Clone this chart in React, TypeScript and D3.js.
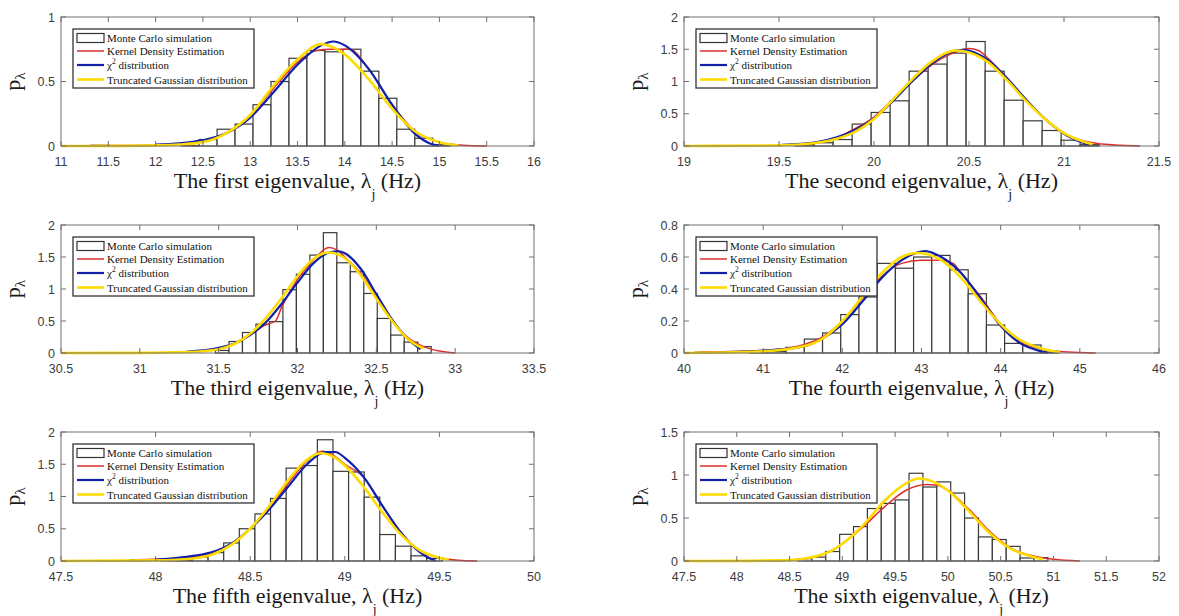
import React from 'react';
import * as d3 from 'd3';

// histogram heights (bin start, bin width, heights)
const bins1 = [0.005, 0, 0, 0, 0, 0.003, 0.05, 0.13, 0.17, 0.32, 0.5, 0.68, 0.74, 0.73, 0.75, 0.58, 0.37, 0.13, 0.06, 0.01];
const bins2 = [0.02, 0.05, 0.1, 0.34, 0.52, 0.7, 1.16, 1.27, 1.44, 1.62, 1.16, 0.71, 0.39, 0.24, 0.09, 0.02];
const bins3 = [0.04, 0.18, 0.32, 0.45, 0.49, 0.99, 1.23, 1.53, 1.88, 1.41, 1.27, 0.93, 0.54, 0.28, 0.17, 0.1];
const bins4 = [0.005, 0, 0, 0.005, 0.01, 0.035, 0.087, 0.125, 0.24, 0.35, 0.56, 0.53, 0.6, 0.61, 0.52, 0.37, 0.175, 0.06, 0.05, 0.005];
const bins5 = [0.02, 0, 0.005, 0.01, 0.06, 0.13, 0.28, 0.5, 0.73, 0.97, 1.44, 1.48, 1.88, 1.39, 1.38, 0.99, 0.41, 0.23, 0.08, 0.04];
const bins6 = [0.027, 0.045, 0.11, 0.31, 0.4, 0.61, 0.67, 0.71, 1.02, 0.86, 0.92, 0.79, 0.5, 0.28, 0.25, 0.17, 0.035, 0.04];

// kernel density estimation (red)
const kde1 = [[11.3, 0.003], [11.8, 0.004], [12.25, 0.015], [12.5, 0.04], [12.75, 0.1], [13, 0.24], [13.25, 0.45], [13.5, 0.65], [13.7, 0.74], [13.85, 0.75], [14.05, 0.75], [14.25, 0.6], [14.5, 0.32], [14.75, 0.11], [15, 0.03], [15.25, 0.006], [15.5, 0]];
const kde2 = [[19.6, 0.02], [19.7, 0.05], [19.8, 0.12], [19.9, 0.27], [20, 0.45], [20.1, 0.72], [20.2, 1.0], [20.3, 1.25], [20.4, 1.42], [20.5, 1.51], [20.55, 1.48], [20.6, 1.36], [20.7, 1.05], [20.8, 0.72], [20.9, 0.42], [21, 0.2], [21.1, 0.08], [21.2, 0.03], [21.3, 0.01], [21.4, 0]];
const kde3 = [[31.5, 0.07], [31.6, 0.15], [31.7, 0.3], [31.8, 0.44], [31.86, 0.5], [31.9, 0.72], [32, 1.15], [32.1, 1.45], [32.2, 1.65], [32.25, 1.61], [32.3, 1.5], [32.4, 1.25], [32.5, 0.88], [32.6, 0.5], [32.7, 0.24], [32.8, 0.1], [32.9, 0.03], [33, 0]];
const kde4 = [[40.2, 0.005], [41, 0.015], [41.5, 0.05], [41.75, 0.1], [42, 0.2], [42.25, 0.34], [42.5, 0.48], [42.75, 0.56], [43, 0.58], [43.25, 0.58], [43.4, 0.56], [43.5, 0.5], [43.75, 0.35], [44, 0.18], [44.25, 0.07], [44.5, 0.025], [44.75, 0.01], [45, 0.003], [45.2, 0]];
const kde5 = [[47.9, 0.02], [48.2, 0.06], [48.3, 0.12], [48.4, 0.27], [48.5, 0.5], [48.6, 0.82], [48.7, 1.2], [48.8, 1.55], [48.88, 1.7], [48.95, 1.62], [49, 1.5], [49.1, 1.3], [49.2, 0.85], [49.3, 0.42], [49.4, 0.15], [49.5, 0.05], [49.6, 0.01], [49.7, 0]];
const kde6 = [[48.3, 0], [48.6, 0.02], [48.8, 0.07], [49, 0.2], [49.2, 0.4], [49.4, 0.63], [49.6, 0.82], [49.8, 0.89], [49.9, 0.88], [50, 0.82], [50.2, 0.6], [50.4, 0.34], [50.6, 0.15], [50.8, 0.06], [51, 0.02], [51.25, 0]];

// chi^2 fit (blue)
const chi1 = [[12, 0.01], [12.25, 0.02], [12.5, 0.045], [12.75, 0.1], [13, 0.22], [13.25, 0.42], [13.5, 0.63], [13.75, 0.78], [13.88, 0.81], [14, 0.78], [14.25, 0.6], [14.5, 0.32], [14.75, 0.09], [14.9, 0.02], [15, 0.003]];
const chi2 = [[19.5, 0.015], [19.7, 0.06], [19.8, 0.13], [19.9, 0.25], [20, 0.43], [20.1, 0.7], [20.2, 1.0], [20.3, 1.27], [20.4, 1.45], [20.47, 1.49], [20.6, 1.33], [20.7, 1.05], [20.8, 0.72], [20.9, 0.42], [21, 0.19], [21.1, 0.05], [21.13, 0.02]];
const chi3 = [[31.3, 0.02], [31.5, 0.08], [31.6, 0.15], [31.7, 0.28], [31.8, 0.48], [31.9, 0.77], [32, 1.1], [32.1, 1.4], [32.2, 1.57], [32.26, 1.59], [32.3, 1.56], [32.4, 1.32], [32.5, 0.92], [32.6, 0.52], [32.7, 0.22], [32.78, 0.06]];
const chi4 = [[40.5, 0.005], [41, 0.015], [41.5, 0.04], [41.75, 0.09], [42, 0.18], [42.25, 0.32], [42.5, 0.47], [42.75, 0.58], [43.05, 0.637], [43.25, 0.6], [43.5, 0.5], [43.75, 0.34], [44, 0.17], [44.25, 0.06], [44.5, 0.012], [44.6, 0.002]];
const chi5 = [[48, 0.02], [48.2, 0.08], [48.3, 0.14], [48.4, 0.27], [48.5, 0.5], [48.6, 0.8], [48.7, 1.15], [48.8, 1.5], [48.9, 1.69], [48.95, 1.69], [49, 1.6], [49.1, 1.3], [49.2, 0.85], [49.3, 0.43], [49.4, 0.13], [49.45, 0.04], [49.48, 0.005]];
const chi6: number[][] = [];

// truncated gaussian (yellow)
const tg1 = [[11, 0], [11.5, 0.001], [12, 0.005], [12.25, 0.012], [12.5, 0.03], [12.75, 0.1], [13, 0.24], [13.25, 0.47], [13.5, 0.67], [13.75, 0.79], [14, 0.71], [14.25, 0.52], [14.5, 0.29], [14.75, 0.11], [15, 0.03], [15.2, 0.005]];
const tg2 = [[19, 0], [19.5, 0.01], [19.7, 0.05], [19.8, 0.11], [19.9, 0.22], [20, 0.42], [20.1, 0.72], [20.2, 1.03], [20.3, 1.3], [20.43, 1.48], [20.5, 1.45], [20.6, 1.3], [20.7, 1.02], [20.8, 0.7], [20.9, 0.42], [21, 0.2], [21.1, 0.07], [21.15, 0.03]];
const tg3 = [[30.5, 0], [31, 0.002], [31.3, 0.015], [31.5, 0.06], [31.6, 0.14], [31.7, 0.3], [31.8, 0.55], [31.9, 0.86], [32, 1.2], [32.1, 1.47], [32.2, 1.57], [32.3, 1.48], [32.4, 1.22], [32.5, 0.85], [32.6, 0.5], [32.7, 0.22], [32.8, 0.07]];
const tg4 = [[40, 0], [40.5, 0.003], [41, 0.01], [41.5, 0.04], [41.75, 0.09], [42, 0.2], [42.25, 0.35], [42.5, 0.5], [42.75, 0.6], [42.95, 0.625], [43.25, 0.58], [43.5, 0.47], [43.75, 0.32], [44, 0.18], [44.25, 0.08], [44.5, 0.03], [44.75, 0.005]];
const tg5 = [[47.5, 0], [48, 0.01], [48.2, 0.04], [48.3, 0.1], [48.4, 0.25], [48.5, 0.5], [48.6, 0.85], [48.7, 1.25], [48.8, 1.57], [48.87, 1.67], [48.95, 1.6], [49, 1.48], [49.1, 1.15], [49.2, 0.75], [49.3, 0.4], [49.4, 0.16], [49.5, 0.05], [49.55, 0.02]];
const tg6 = [[47.5, 0], [48, 0.002], [48.5, 0.01], [48.7, 0.04], [48.9, 0.12], [49, 0.2], [49.2, 0.42], [49.4, 0.7], [49.6, 0.9], [49.72, 0.96], [49.9, 0.9], [50, 0.82], [50.2, 0.58], [50.4, 0.32], [50.6, 0.14], [50.8, 0.05], [50.9, 0.02]];

// tick values
const xt1 = [11, 11.5, 12, 12.5, 13, 13.5, 14, 14.5, 15, 15.5, 16];
const xt2 = [19, 19.5, 20, 20.5, 21, 21.5];
const xt3 = [30.5, 31, 31.5, 32, 32.5, 33, 33.5];
const xt4 = [40, 41, 42, 43, 44, 45, 46];
const xt5 = [47.5, 48, 48.5, 49, 49.5, 50];
const xt6 = [47.5, 48, 48.5, 49, 49.5, 50, 50.5, 51, 51.5, 52];
const yt1 = [0, 0.5, 1];
const yt2 = [0, 0.5, 1, 1.5, 2];
const yt4 = [0, 0.2, 0.4, 0.6, 0.8];
const yt6 = [0, 0.5, 1, 1.5];

const ordinals = ['first', 'second', 'third', 'fourth', 'fifth', 'sixth'];
const legendLabels = ['Monte Carlo simulation', 'Kernel Density Estimation', 'distribution', 'Truncated Gaussian distribution'];

const RED = '#dc2f2f';
const BLUE = '#1020a8';
const YELLOW = '#ffdc00';

const panels = [
  {bins: bins1, b0: 11.32, bw: 0.19, kde: kde1, chi: chi1, tg: tg1, xt: xt1, yt: yt1},
  {bins: bins2, b0: 19.585, bw: 0.1, kde: kde2, chi: chi2, tg: tg2, xt: xt2, yt: yt2},
  {bins: bins3, b0: 31.48, bw: 0.0855, kde: kde3, chi: chi3, tg: tg3, xt: xt3, yt: yt2},
  {bins: bins4, b0: 40.14, bw: 0.23, kde: kde4, chi: chi4, tg: tg4, xt: xt4, yt: yt4},
  {bins: bins5, b0: 47.865, bw: 0.0825, kde: kde5, chi: chi5, tg: tg5, xt: xt5, yt: yt2},
  {bins: bins6, b0: 48.58, bw: 0.1315, kde: kde6, chi: chi6, tg: tg6, xt: xt6, yt: yt6},
];

const cols = [[61, 534], [684, 1159]];
const rows = [[17, 146], [225, 353], [432, 561]];

function Panel({p, idx}: any) {
  const [x0, x1] = cols[idx % 2];
  const [y0, y1] = rows[Math.floor(idx / 2)];
  const xs = d3.scaleLinear().domain([p.xt[0], p.xt[p.xt.length - 1]]).range([x0, x1]);
  const ys = d3.scaleLinear().domain([0, p.yt[p.yt.length - 1]]).range([y1, y0]);
  const line = d3.line<number[]>().x(d => xs(d[0])).y(d => ys(d[1])).curve(d3.curveMonotoneX);
  const tick = 5;
  const axisCol = '#707070';
  const lx = x0 + 12, ly = y0 + 12;
  const rowY = [9, 22, 36, 50.5];

  return (
    <g>
      {p.bins.map((h: number, i: number) => {
        if (h === 0) return null;
        const a = p.b0 + i * p.bw;
        return <rect key={i} x={xs(a)} y={ys(h)} width={xs(a + p.bw) - xs(a)} height={ys(0) - ys(h)}
          fill="white" stroke="#3a3a3a" strokeWidth={1.2} />;
      })}
      <path d={line(p.kde) || ''} fill="none" stroke={RED} strokeWidth={1.5} />
      {p.chi.length > 0 && <path d={line(p.chi) || ''} fill="none" stroke={BLUE} strokeWidth={2.2} />}
      <path d={line(p.tg) || ''} fill="none" stroke={YELLOW} strokeWidth={2.6} />

      <rect x={x0} y={y0} width={x1 - x0} height={y1 - y0} fill="none" stroke={axisCol} strokeWidth={1} />
      {p.xt.map((t: number) => (
        <g key={'x' + t}>
          <line x1={xs(t)} x2={xs(t)} y1={y1} y2={y1 - tick} stroke={axisCol} />
          <line x1={xs(t)} x2={xs(t)} y1={y0} y2={y0 + tick} stroke={axisCol} />
          <text x={xs(t)} y={y1 + 20} textAnchor="middle" fontSize={12.5} fill="#3c3c3c"
            fontFamily="'Liberation Sans', Arial, sans-serif">{String(t)}</text>
        </g>
      ))}
      {p.yt.map((t: number) => (
        <g key={'y' + t}>
          <line x1={x0} x2={x0 + tick} y1={ys(t)} y2={ys(t)} stroke={axisCol} />
          <line x1={x1} x2={x1 - tick} y1={ys(t)} y2={ys(t)} stroke={axisCol} />
          <text x={x0 - 6} y={ys(t) + 4.5} textAnchor="end" fontSize={12.5} fill="#3c3c3c"
            fontFamily="'Liberation Sans', Arial, sans-serif">{String(t)}</text>
        </g>
      ))}

      <text x={(x0 + x1) / 2} y={y1 + 42} textAnchor="middle" fontSize={22} fill="#1a1a1a"
        fontFamily="'Liberation Serif', 'Times New Roman', serif">
        {`The ${ordinals[idx]} eigenvalue, λ`}
        <tspan fontSize={14} dy={11}>j</tspan>
        <tspan dy={-11}> (Hz)</tspan>
      </text>
      <text transform={`translate(${x0 - 41},${(y0 + y1) / 2}) rotate(-90)`} textAnchor="middle" fontSize={22}
        fill="#1a1a1a" fontFamily="'Liberation Serif', 'Times New Roman', serif">
        p<tspan fontSize={15} dy={5}>λ</tspan>
      </text>

      <g transform={`translate(${lx},${ly})`} fontFamily="'Liberation Serif', 'Times New Roman', serif" fontSize={11} fill="#111">
        <rect x={0} y={0} width={181} height={59} fill="white" stroke="#333" strokeWidth={1.3} />
        <rect x={4} y={rowY[0] - 4.5} width={27} height={9} fill="white" stroke="#333" strokeWidth={1.2} />
        <line x1={4} x2={31} y1={rowY[1]} y2={rowY[1]} stroke={RED} strokeWidth={1.5} />
        <line x1={4} x2={31} y1={rowY[2]} y2={rowY[2]} stroke={BLUE} strokeWidth={2.2} />
        <line x1={4} x2={31} y1={rowY[3]} y2={rowY[3]} stroke={YELLOW} strokeWidth={2.6} />
        <text x={34} y={rowY[0] + 4}>{legendLabels[0]}</text>
        <text x={34} y={rowY[1] + 4}>{legendLabels[1]}</text>
        <text x={34} y={rowY[2] + 4}>χ<tspan fontSize={7.5} dy={-5}>2</tspan><tspan dy={5}> {legendLabels[2]}</tspan></text>
        <text x={34} y={rowY[3] + 4}>{legendLabels[3]}</text>
      </g>
    </g>
  );
}

export default function App() {
  return (
    <svg width={1179} height={616} style={{position: 'absolute', left: 0, top: 0, background: 'white'}}>
      {panels.map((p, i) => <Panel key={i} p={p} idx={i} />)}
    </svg>
  );
}
